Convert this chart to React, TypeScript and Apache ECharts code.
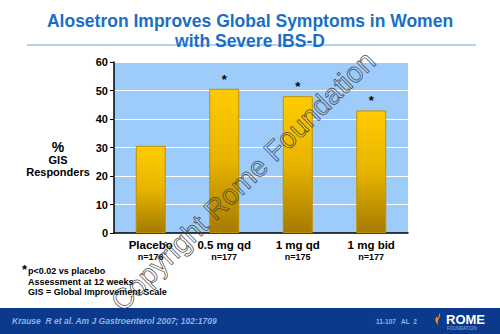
import React, { useEffect, useRef } from "react";
import * as echarts from "echarts";

const categories = ["Placebo", "0.5 mg qd", "1 mg qd", "1 mg bid"];
const nLabels = ["n=176", "n=177", "n=175", "n=177"];
const values = [30.6, 50.6, 48.0, 43.0];
const significant = [false, true, true, true];
const yTicks = [0, 10, 20, 30, 40, 50, 60];
const footnotes = ["p<0.02 vs placebo", "Assessment at 12 weeks", "GIS = Global Improvement Scale"];

const FONT = "Liberation Sans, Arial, Helvetica, sans-serif";

export default function App() {
  const ref = useRef<HTMLDivElement>(null);
  useEffect(() => {
    if (!ref.current) return;
    const chart = echarts.init(ref.current, null, { renderer: "svg", width: 500, height: 334 });
    const flame = "M6 0 C9 4 2 7 5 12 C2 10 0 7 3 3 C3 6 5 6 6 0 Z";
    echarts.graphic.registerShape("flame", echarts.graphic.extendPath(flame, {}) as any);
    chart.setOption({
      animation: false,
      backgroundColor: "#ffffff",
      textStyle: { fontFamily: FONT },
      title: {
        text: "Alosetron Improves Global Symptoms in Women\nwith Severe IBS-D",
        left: "center",
        top: 6,
        textStyle: { color: "#1a6fc4", fontSize: 17.5, fontWeight: "bold", lineHeight: 20, fontFamily: FONT },
      },
      grid: { left: 114, right: 92, top: 62, bottom: 101 },
      xAxis: {
        type: "category",
        data: categories,
        axisLine: { lineStyle: { color: "#000", width: 1.5 } },
        axisTick: { show: false },
        axisLabel: {
          interval: 0,
          margin: 5,
          color: "#000",
          formatter: (v: string, i: number) => `{a|${v}}\n{b|${nLabels[i]}}`,
          rich: {
            a: { fontSize: 11.5, fontWeight: "bold", color: "#000", lineHeight: 13, fontFamily: FONT },
            b: { fontSize: 9, fontWeight: "bold", color: "#000", lineHeight: 11, fontFamily: FONT },
          },
        },
      },
      yAxis: {
        type: "value",
        min: 0,
        max: 60,
        interval: 10,
        axisLine: { show: true, lineStyle: { color: "#000", width: 1.5 } },
        axisTick: { show: true, length: 4, lineStyle: { color: "#000" } },
        axisLabel: { color: "#000", fontSize: 11, fontWeight: "bold", margin: 6, formatter: (v: number) => (yTicks.includes(v) ? String(v) : "") },
        splitLine: { lineStyle: { color: "#ffffff", width: 1 } },
        splitArea: { show: true, areaStyle: { color: ["#9dccfa", "#9dccfa"] } },
      },
      series: [
        {
          type: "bar",
          data: values.map((v, i) => ({
            value: v,
            label: { show: significant[i], position: "top", formatter: "*", distance: 3, color: "#000", fontSize: 13, fontWeight: "bold" },
          })),
          barWidth: 30,
          itemStyle: {
            color: new echarts.graphic.LinearGradient(0, 0, 0, 1, [
              { offset: 0, color: "#ffcc00" },
              { offset: 0.5, color: "#e8b400" },
              { offset: 1, color: "#a57a00" },
            ]),
            borderColor: "#c09000",
            borderWidth: 1,
          },
        },
      ],
      graphic: [
        { type: "line", shape: { x1: 27, y1: 45, x2: 476, y2: 45 }, style: { stroke: "#6fa8dc", lineWidth: 1 } },
        {
          type: "text", x: 58, y: 140,
          style: {
            text: "{p|%}\n{g|GIS}\n{g|Responders}", fill: "#000", textAlign: "center",
            rich: {
              p: { fontSize: 14, fontWeight: "bold", lineHeight: 14, fontFamily: FONT, align: "center" },
              g: { fontSize: 11, fontWeight: "bold", lineHeight: 12, fontFamily: FONT, align: "center" },
            },
          } as any,
          z: 10,
        },
        { type: "text", x: 22, y: 263, style: { text: "*", fill: "#000", font: `bold 13px ${FONT}` } },
        {
          type: "text", x: 28, y: 266,
          style: { text: footnotes.join("\n"), fill: "#000", font: `bold 9px ${FONT}`, lineHeight: 10.5 } as any,
        },
        { type: "rect", shape: { x: 0, y: 308, width: 500, height: 26 }, style: { fill: "#0b3a8c" } },
        {
          type: "text", x: 12, y: 316,
          style: { text: "Krause  R et al. Am J Gastroenterol 2007; 102:1709", fill: "#8fb2e6", font: `italic bold 8.5px ${FONT}` },
        },
        { type: "text", x: 376, y: 318, style: { text: "11-107   AL  2", fill: "#8fb2e6", font: `bold 6.5px ${FONT}` } },
        { type: "flame", x: 434, y: 313, scaleX: 0.9, scaleY: 1, style: { fill: "#f08a1c" } } as any,
        { type: "text", x: 446, y: 313, style: { text: "ROME", fill: "#ffffff", font: `bold 13px ${FONT}` } },
        { type: "text", x: 447, y: 326, style: { text: "FOUNDATION", fill: "#8fb2e6", font: `4.5px ${FONT}` } },
        {
          type: "text", x: 243, y: 181, rotation: Math.PI / 4.05, z: 100,
          style: {
            text: "Copyright Rome Foundation", fill: "rgba(0,0,0,0)", stroke: "#444444", lineWidth: 0.7,
            font: `28.5px ${FONT}`, textAlign: "center", textVerticalAlign: "middle",
          } as any,
        },
      ],
    });
    return () => chart.dispose();
  }, []);
  return <div ref={ref} style={{ position: "fixed", left: 0, top: 0, width: 500, height: 334 }} />;
}
